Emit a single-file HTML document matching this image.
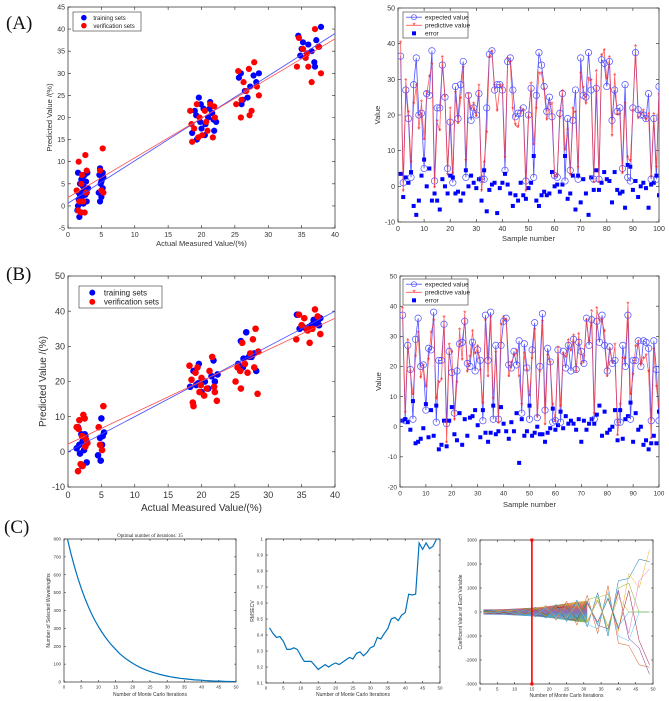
<!DOCTYPE html>
<html><head><meta charset="utf-8">
<style>
html,body{margin:0;padding:0;background:#fff;}
svg{display:block;font-family:"Liberation Sans",sans-serif;}
.pl{font-family:"Liberation Serif",serif;font-size:19px;fill:#111;}
</style></head>
<body>
<svg id="fig" width="669" height="701" viewBox="0 0 669 701" xmlns="http://www.w3.org/2000/svg">
<rect width="669" height="701" fill="#fff"/>
<text class="pl" x="6" y="29">(A)</text>
<text class="pl" x="6" y="280">(B)</text>
<text class="pl" x="4" y="533">(C)</text>
</svg>
<script>
// ---------- data ----------
const scatXTicks=[0,5,10,15,20,25,30,35,40];
const aScatYTicks=[-5,0,5,10,15,20,25,30,35,40,45];
const bScatYTicks=[-10,0,10,20,30,40,50];
const sampXTicks=[0,10,20,30,40,50,60,70,80,90,100];
const aSampYTicks=[-10,0,10,20,30,40,50];
const bSampYTicks=[-20,-10,0,10,20,30,40,50];

const trainAx=[1.4,1.5,1.6,1.7,1.8,1.9,2.0,2.1,2.2,2.3,2.4,2.5,2.6,2.7,2.8,3.0,1.5,1.8,2.0,2.2,2.5,2.8,1.6,2.3,2.9,4.6,4.7,4.8,4.9,5.0,5.1,5.2,5.3,4.8,5.0,5.2,18.6,19.0,19.3,19.6,19.8,20.0,20.3,20.6,21.0,21.3,21.6,21.9,22.2,19.2,19.9,20.5,21.2,21.8,25.6,25.9,26.2,26.5,26.9,27.3,27.8,28.2,28.6,26.0,34.5,34.8,35.2,35.6,36.0,36.5,36.9,37.2,37.6,37.9,35.0,37.0];
const trainAy=[-1,7.5,3,-2.5,5,1,6,2,4.5,0.5,3.5,7,2.5,5.5,1,4,0,2.5,-1.5,6.5,4,3,1.5,5,7.5,3,7,8.5,5,2,6,4,6.5,1,5.5,7.5,16.5,21.5,15,24.5,19,17.5,22,18.5,20,23.5,21,17,19,20.5,23,16,22,19.5,29,30,24,26,24.5,27,29.5,28,30,23,38.5,34,37,33.5,36.5,35,32.5,37.5,36,40.5,35.5,31.5];
const verifAx=[1.3,1.6,1.9,2.1,2.3,2.6,2.8,1.5,2.0,2.5,2.7,1.7,4.8,5.2,5.3,5.0,18.3,18.6,18.9,19.3,19.7,20.1,20.5,20.9,21.3,21.7,22.0,18.5,19.5,20.7,21.9,25.2,25.5,25.9,26.3,26.7,27.1,27.5,27.9,28.3,28.6,26.0,27.2,34.3,34.6,35.2,35.6,36.0,36.5,37.0,37.5,37.9,35.8];
const verifAy=[3.5,10,-1.5,7,1,11.5,8,-1,5,-1.5,3,1,8,13,3,3.5,21.5,14.5,17.5,23,20,16,21.5,17,23,15.5,20,18.5,15.5,19,22.5,23,30.5,20,28,26,31,21.5,32.5,27,25,24,20.5,31.5,38,35.5,33.5,31.5,28,40,36,30,34.5,36.5];
const trainBx=[1.3,1.5,1.8,2.0,2.2,2.4,2.6,2.8,1.7,2.1,2.5,4.5,4.8,5.0,5.2,5.4,4.9,5.1,18.3,18.8,19.2,19.6,20.0,20.5,21.0,21.5,22.0,22.4,19.5,21.8,25.5,25.9,26.3,26.7,27.1,27.5,27.9,26.2,28.2,34.3,34.7,35.2,35.7,36.1,36.5,37.0,37.4,37.8,36.8,37.6];
const trainBy=[1,7,-0.5,5,3,0.5,4.5,-3,2,-4,5,-1,4,9.5,4.5,5.5,-2.5,2,18.5,23,19,25,17,20,18,21.5,20,22,19.5,26,25,31.5,26.5,34,27,27,28,24,23,39,35,35.5,35,35.5,36,36.5,37,38,37.5,36];
const verifBx=[1.3,1.5,1.7,1.9,2.1,2.3,2.5,2.7,2.9,1.6,2.2,2.6,1.4,4.6,4.8,5.1,5.3,18.2,18.5,18.8,19.1,19.4,19.7,20.0,20.4,20.8,21.2,21.6,22.0,22.3,18.7,19.9,21.9,25.1,25.4,25.8,26.1,26.5,26.9,27.3,27.7,28.1,28.5,25.9,27.9,28.4,34.2,34.6,35.0,35.4,35.8,36.2,36.6,37.0,37.4,37.8,35.9];
const verifBy=[7,-5.5,9,-3.5,4.5,10.5,9.5,3.5,2.5,6.5,-4,1.5,7,7,2,0.5,13,24.5,20.5,13,22.5,24,17,21,16,18,23,27,17,14.5,14,19,18.5,20,24,23,31,25,22.5,28,32,35,28.5,18,24,16.5,32,39,36,38,35,31,35,40.5,38.5,33.5,34.5];
const fitA=[[0.6,39],[1.9,37.8]];
const fitB=[[0,40],[2.2,38]];

const expA=[36.5,1,27,19,2.5,28.5,36,20,20.5,5,26,25.5,38,1.5,22,22,34,25,5,18,1,28,19,28.5,35,2.5,25.5,18.5,22,20,26,2,2,22,37,38,27,28.5,28.5,27,4.5,35,36,27,19.5,20.5,20.5,22,1.5,20,27.5,2.5,25.5,37.5,34,28,21,25,19.5,3,2.5,20.5,26,1.5,19,4.5,18.5,27,2,36,25.5,25,37.5,27,2,27.5,2,35.5,34.5,28,35,18.5,27,21,22,5,28.5,2.5,1.5,22,37.5,21.5,20,20,19,26,2,19,2,28];
const predA=[40,-1.5,29.5,20.5,6.5,23,28,16,23.5,13,26,30.5,34,-0.5,18,15.5,36,25,3,21.5,3.5,26,17.5,24.5,33,7,25.5,21.5,23,19.5,28,-1.5,6.5,15,36,37.5,28,21,28,28,8,35.5,34.5,21.5,17,16.5,21.5,21,-1.5,19,28.5,11.5,21.5,31.5,31.5,27,18.5,23,23,2.5,3,19,26.5,10,15.5,3,21.5,20.5,5,31.5,27.5,23,30,29.5,1,32,1,36.5,38,30,36,14,31,20,20,3.5,23,8,7,21,39,19,20,21,18.5,20,2.5,20,5,25.5];
const errA=[3.5,-3,2.5,1,4,-5.5,-8,-4,3,7.5,0,5,-4,-2,-4,-6.5,2,0,-2,3,2.5,-2,-1.5,-4,-2,4.5,0,3,1,-0.5,2,-4,4.5,-7,-1,0.5,1,-7.5,-0.5,1,3.5,0.5,-2,-5.5,-2.5,-4,1,-2.5,-3.5,-0.5,1,8.5,-4,-5.5,-2.5,-1.5,-2.5,-2,4,0,0.5,-1.5,0.5,8.5,-3.5,-2,3,-6.5,3,-4.5,2,-2,-8,2.5,-1,4.5,-1,1,4,2,1.5,-4.5,4,-1,-2,-1.5,-6,6,5.5,-1,1.5,-3,0,1,-0.5,-6,0.5,1,3,-2.5];
const expB=[37,2,27,19,2.5,29,36,20,20.5,5.5,26,25.5,38,1.5,22,22,34,1,25,18,4.5,18.5,27.5,28,35,21,20,28,18.5,25.5,22,2,37,22,38,2.5,27,2.5,27,35,36,20.5,19.5,25,20.5,28.5,4.5,27.5,19.5,2.5,25.5,34.5,3,20,37.5,5.5,26,21.5,1.5,2,25.5,1.5,25,19.5,27,18.5,29,19,28,25,21,36,27,35.5,2.5,35,28,37,27,18.5,26.5,21,22,1.5,1.5,27,20,37,2.5,22,22,28.5,20,28.5,28,26,2,28.5,19,2];
const predB=[39,4.5,28.5,18,10.5,23,31,16,20,13,22,31,35,9,14.5,15.5,36,-5.5,27,24.5,2,14.5,32,22,37.5,18,23,31.5,24,26.5,18.5,7.5,35,16.5,36,9,24.5,1,33.5,36,35,16.5,21,23.5,25,16.5,7,24,18.5,10,22.5,32,3,18,34.5,0.5,23.5,21,7,1.5,26,6.5,24,23,28.5,25,30,18,30.5,20.5,23,35,28,38,4,39,35,35,31.5,16.5,25.5,21,27,-3,7,22.5,22.5,40.5,10.5,17,26.5,28,20.5,22.5,23.5,18,-4,25.5,13,6.5];
const errB=[2,2.5,1.5,-1,8.5,-5.5,-5,-4,-0.5,7.5,-3.5,5.5,-3,7,-7.5,-6,2,-6.5,2,6.5,-2.5,-4.5,4.5,-6,2.5,-3,3,3.5,5.5,0.5,-3.5,5.5,-2,-5,-2,7,-2.5,-1.5,6.5,1,-1.5,-4,1.5,-1.5,4.5,-12,2.5,-3,-1.5,7,-3,-2,0,-2.5,-2.5,-5,-2,-0.5,6,-1,0.5,5,-0.5,3.5,1,2,1,-1,2.5,-5,2,-1,1,2.5,1,4,7,-3,5,-2,-1,0,5.5,-4.5,5.5,-4,2.5,3.5,8,-5,4.5,-1,0,-6,-4.5,-7.5,-5.5,-3,-5.5,5];

const nWave=[800,720,648,583,525,472,425,382,344,310,279,251,226,203,183,162,145,130,117,104,93,83,74,66,59,53,47,42,37,33,29,26,23,20,18,16,14,12,11,10,8,7,6,5,5,4,3,3,2,2];
const rmsecv=[0.445,0.41,0.385,0.39,0.36,0.31,0.31,0.32,0.31,0.27,0.235,0.235,0.235,0.21,0.185,0.2,0.215,0.2,0.215,0.225,0.215,0.23,0.245,0.26,0.25,0.285,0.295,0.27,0.29,0.32,0.33,0.385,0.375,0.41,0.44,0.5,0.51,0.49,0.525,0.54,0.655,0.65,0.655,0.975,0.935,0.975,0.94,0.955,1.0,1.0];
const coefIter=[1,4,7,10,13,16,19,22,25,28,31,34,37,40,43,46,49];
const coefS1=[60,80,-90,120,-150,200,-260,320,-400,500,-620,800,-1000,1300,1400,2200,2100];
const coefS2=[-50,-70,100,-130,170,-210,280,-350,450,-550,700,-900,1100,-1300,-1400,-2200,-2300];
const coefS3=[30,40,60,80,-100,150,200,-250,300,380,-450,600,750,-800,1600,1000,2600];
const coefS4=[-30,-50,-60,-90,110,-140,-180,220,-280,-350,450,-550,-700,900,-1100,-1500,-2600];
const coefS5=[80,-60,70,-100,130,160,-200,250,300,-400,500,650,-800,1000,1200,0,0];
const coefS6=[-80,70,-80,110,-120,-170,220,-260,-320,420,-520,-700,850,-1000,-1200,0,0];
const coefS7=[20,30,-40,60,-80,100,-120,180,220,-280,350,-420,550,-700,900,-1200,-2200];
const coefS8=[-20,-40,50,-70,90,-120,150,-190,-240,300,-380,460,-600,800,-900,1300,1800];
const coefS9=[40,-50,60,-80,100,-130,160,-200,260,-320,400,-500,600,-600,0,0,0];
const coefS10=[-40,50,-60,80,-100,130,-160,200,-260,320,-400,500,-600,600,0,0,0];
const bandUp=[110,110,120,140,160,190,230,290,360,420,470];
const bandLo=[-110,-110,-120,-140,-160,-190,-230,-280,-340,-400,-440];
const cXTicks=[0,5,10,15,20,25,30,35,40,45,50];
const c1YTicks=[0,100,200,300,400,500,600,700,800];
const c2YTicks=[0.1,0.2,0.3,0.4,0.5,0.6,0.7,0.8,0.9,1];
const c3YTicks=[-3000,-2000,-1000,0,1000,2000,3000];
const optIter=[15];

// ---------- helpers ----------
const NS='http://www.w3.org/2000/svg';
const svg=document.getElementById('fig');
function mk(tag,attrs,parent){const e=document.createElementNS(NS,tag);for(const k in attrs)e.setAttribute(k,attrs[k]);(parent||svg).appendChild(e);return e;}
function lin(d0,d1,r0,r1){return v=>r0+(v-d0)*(r1-r0)/(d1-d0);}

function axes(name,c){
  const g=mk('g',{});
  
  
  const sx=lin(c.xmin,c.xmax,c.x0,c.x1), sy=lin(c.ymin,c.ymax,c.y0,c.y1);
  const fr=mk('rect',{x:c.x0,y:c.y1,width:c.x1-c.x0,height:c.y0-c.y1,fill:'#fff',stroke:'#262626','stroke-width':0.7},g);
  
  
  const tl=c.tl||3;
  c.xt.forEach(v=>{
    const X=sx(v);
    const t=mk('path',{d:`M${X},${c.y0}v${-tl}M${X},${c.y1}v${tl}`,stroke:'#262626','stroke-width':0.6},g);
    
    
    const l=mk('text',{x:X,y:c.y0+c.fs+2,'font-size':c.fs,'text-anchor':'middle',fill:'#333'},g);
    
    
    l.textContent=v;
  });
  c.yt.forEach(v=>{
    const Y=sy(v);
    const t=mk('path',{d:`M${c.x0},${Y}h${tl}M${c.x1},${Y}h${-tl}`,stroke:'#262626','stroke-width':0.6},g);
    
    
    const l=mk('text',{x:c.x0-3,y:Y+c.fs*0.35,'font-size':c.fs,'text-anchor':'end',fill:'#333'},g);
    
    
    l.textContent=v;
  });
  if(c.xl){const l=mk('text',{x:(c.x0+c.x1)/2,y:c.xly,'font-size':c.lfs,'text-anchor':'middle',fill:'#333'},g);
    
    
    l.textContent=c.xl;}
  if(c.yl){const l=mk('text',{x:c.ylx,y:(c.y0+c.y1)/2,'font-size':c.lfs,'text-anchor':'middle',fill:'#333',transform:`rotate(-90 ${c.ylx} ${(c.y0+c.y1)/2})`},g);
    
    
    l.textContent=c.yl;}
  const clip='clip'+name;
  const cp=mk('clipPath',{id:clip},g);
  mk('rect',{x:c.x0,y:c.y1,width:c.x1-c.x0,height:c.y0-c.y1},cp);
  const pg=mk('g',{'clip-path':`url(#${clip})`},g);
  
  
  return {sx,sy,g,pg};
}

function scatterPanel(name,c,tx,ty,vx,vy,fits,r,leg){
  const a=axes(name,c);
  const n1=Math.min(tx.length,ty.length), n2=Math.min(vx.length,vy.length);
  for(let i=0;i<n1;i++){const p=mk('circle',{cx:a.sx(tx[i]),cy:a.sy(ty[i]),r:r,fill:'#0000ff'},a.pg);
    
    }
  for(let i=0;i<n2;i++){const p=mk('circle',{cx:a.sx(vx[i]),cy:a.sy(vy[i]),r:r,fill:'#ff0000'},a.pg);
    
    }
  const cols=['#4a4aff','#ff4a4a'];
  fits.forEach((f,k)=>{const l=mk('line',{x1:a.sx(0),y1:a.sy(f[0]),x2:a.sx(40),y2:a.sy(f[1]),stroke:cols[k],'stroke-width':0.8},a.pg);
    
    });
  const lg=mk('g',{},a.g);
  
  
  mk('rect',{x:leg.x,y:leg.y,width:leg.w,height:leg.h,fill:'#fff',stroke:'#333','stroke-width':0.6},lg);
  [['training sets','#0000ff'],['verification sets','#ff0000']].forEach((e,k)=>{
    const yy=leg.y+leg.h*(0.3+0.42*k);
    const d=mk('circle',{cx:leg.x+leg.w*0.16,cy:yy,r:r*0.9,fill:e[1]},lg);
    
    
    const t=mk('text',{x:leg.x+leg.w*0.3,y:yy+leg.fs*0.35,'font-size':leg.fs,fill:'#222'},lg);
    
    
    t.textContent=e[0];
  });
}

function samplePanel(name,c,ex,pr,er,leg){
  const a=axes(name,c);
  const idx=ex.map((_,i)=>i+1);
  const pe=idx.map((x,i)=>`${a.sx(x)},${a.sy(ex[i])}`).join(' ');
  const pp=idx.map((x,i)=>`${a.sx(x)},${a.sy(pr[i])}`).join(' ');
  const l1=mk('polyline',{points:pe,fill:'none',stroke:'#5050ff','stroke-width':0.8},a.pg);
  
  
  const l2=mk('polyline',{points:pp,fill:'none',stroke:'#ff4040','stroke-width':0.8,'stroke-opacity':0.85},a.pg);
  
  
  idx.forEach((x,i)=>{
    const o=mk('circle',{cx:a.sx(x),cy:a.sy(ex[i]),r:3.2,fill:'none',stroke:'#5050ff','stroke-width':0.7},a.pg);
    
    
    const s=mk('text',{x:a.sx(x),y:a.sy(pr[i])+3,'font-size':8,'text-anchor':'middle',fill:'#ff2020'},a.pg);
    
    
    s.textContent='*';
    const q=mk('rect',{x:a.sx(x)-2,y:a.sy(er[i])-2,width:4,height:4,fill:'#0000ff'},a.pg);
    
    
  });
  const lg=mk('g',{},a.g);
  
  
  mk('rect',{x:leg.x,y:leg.y,width:leg.w,height:leg.h,fill:'#fff',stroke:'#333','stroke-width':0.6},lg);
  const names=['expected value','predictive value','error'];
  names.forEach((nm,k)=>{
    const yy=leg.y+leg.h*(0.2+0.31*k), x0=leg.x+3, x1=leg.x+19, xm=(x0+x1)/2;
    if(k<2){mk('line',{x1:x0,y1:yy,x2:x1,y2:yy,stroke:k?'#ff4040':'#5050ff','stroke-width':0.8},lg);}
    if(k==0){mk('circle',{cx:xm,cy:yy,r:2.5,fill:'none',stroke:'#5050ff','stroke-width':0.7},lg);}
    if(k==1){mk('text',{x:xm,y:yy+3,'font-size':8,'text-anchor':'middle',fill:'#ff2020'},lg).textContent='*';}
    if(k==2){mk('rect',{x:xm-2,y:yy-2,width:4,height:4,fill:'#0000ff'},lg);}
    const t=mk('text',{x:leg.x+22,y:yy+2.3,'font-size':6.5,fill:'#222'},lg);
    
    
    t.textContent=nm;
  });
}

// ---------- panels ----------
scatterPanel('scatter-a',{x0:68,x1:335,y0:228,y1:7,xmin:0,xmax:40,ymin:-5,ymax:45,xt:scatXTicks,yt:aScatYTicks,fs:7,lfs:7.5,xl:'Actual Measured Value/(%)',xly:246,yl:'Predicted Value /(%)',ylx:52},
  trainAx,trainAy,verifAx,verifAy,fitA,3.1,{x:73,y:12,w:68,h:19,fs:6});
samplePanel('samples-a',{x0:398,x1:659,y0:222,y1:8,xmin:0,xmax:100,ymin:-10,ymax:50,xt:sampXTicks,yt:aSampYTicks,fs:7,lfs:7.5,xl:'Sample number',xly:241,yl:'Value',ylx:380},
  expA,predA,errA,{x:403,y:12,w:65,h:26});
scatterPanel('scatter-b',{x0:68,x1:335,y0:487,y1:276,xmin:0,xmax:40,ymin:-10,ymax:50,xt:scatXTicks,yt:bScatYTicks,fs:9,lfs:10,xl:'Actual Measured Value/(%)',xly:511,yl:'Predicted Value /(%)',ylx:46},
  trainBx,trainBy,verifBx,verifBy,fitB,3.3,{x:79,y:286,w:83,h:22,fs:8});
samplePanel('samples-b',{x0:400,x1:659,y0:487,y1:276,xmin:0,xmax:100,ymin:-20,ymax:50,xt:sampXTicks,yt:bSampYTicks,fs:6.5,lfs:7.5,xl:'Sample number',xly:507,yl:'Value',ylx:381},
  expB,predB,errB,{x:403,y:279,w:65,h:26});

// C1
(function(){
  const a=axes('wavelength-count-chart',{x0:64,x1:236,y0:682,y1:539,xmin:0,xmax:50,ymin:0,ymax:800,xt:cXTicks,yt:c1YTicks,fs:4.5,lfs:5,tl:2,xl:'Number of Monte Carlo Iterations',xly:696,yl:'Number of Selected Wavelengths',ylx:50});
  const pts=nWave.map((v,i)=>`${a.sx(i+1)},${a.sy(v)}`).join(' ');
  const l=mk('polyline',{points:pts,fill:'none',stroke:'#0072bd','stroke-width':1.2},a.pg);
  
  
  const t=mk('text',{x:150,y:537,'font-size':5,'text-anchor':'middle',fill:'#222','font-family':'Liberation Serif'},a.g);
  
  
  t.textContent='Optimal number of iterations: '+optIter[0];
})();
// C2
(function(){
  const a=axes('rmsecv-chart',{x0:266,x1:440,y0:683,y1:539,xmin:0,xmax:50,ymin:0.1,ymax:1,xt:cXTicks,yt:c2YTicks,fs:4.5,lfs:5,tl:2,xl:'Number of Monte Carlo Iterations',xly:696,yl:'RMSECV',ylx:254});
  const pts=rmsecv.map((v,i)=>`${a.sx(i+1)},${a.sy(v)}`).join(' ');
  const l=mk('polyline',{points:pts,fill:'none',stroke:'#0072bd','stroke-width':1.2},a.pg);
  
  
})();
// C3
(function(){
  const a=axes('coefficient-chart',{x0:480,x1:653,y0:684,y1:540,xmin:0,xmax:50,ymin:-3000,ymax:3000,xt:cXTicks,yt:c3YTicks,fs:4.5,lfs:5,tl:2,xl:'Number of Monte Carlo Iterations',xly:697,yl:'Coefficient Value of Each Variable',ylx:462});
  const nb=bandUp.length;
  const bx=coefIter.slice(0,nb);
  const band=bx.map((x,i)=>`${a.sx(x)},${a.sy(bandUp[i])}`).concat(bx.map((x,i)=>`${a.sx(x)},${a.sy(bandLo[i])}`).reverse()).join(' ');
  const grad=mk('linearGradient',{id:'bandGrad',x1:0,y1:0,x2:0,y2:1},a.g);
  [['0','#d9a23a'],['0.3','#c0504d'],['0.5','#7e4f9e'],['0.7','#3a8fc0'],['1','#77ac30']].forEach(s=>mk('stop',{offset:s[0],'stop-color':s[1]},grad));
  const b=mk('polygon',{points:band,fill:'url(#bandGrad)','fill-opacity':0.85},a.pg);
  
  
  const series=[coefS1,coefS2,coefS3,coefS4,coefS5,coefS6,coefS7,coefS8,coefS9,coefS10];
  const cols=['#0072bd','#d95319','#edb120','#7e2f8e','#77ac30','#4dbeee','#a2142f','#e377c2','#17becf','#bcbd22'];
  series.forEach((s,k)=>{
    const pts=coefIter.map((x,i)=>`${a.sx(x)},${a.sy(s[i])}`).join(' ');
    const l=mk('polyline',{points:pts,fill:'none',stroke:cols[k],'stroke-width':0.5},a.pg);
    
    
  });
  const v=mk('line',{x1:a.sx(optIter[0]),y1:a.sy(3000),x2:a.sx(optIter[0]),y2:a.sy(-3000),stroke:'#ff0000','stroke-width':1.6},a.g);
  
  
  [3000,-3000].forEach(y=>{const m=mk('rect',{x:a.sx(optIter[0])-1.5,y:a.sy(y)-1.5,width:3,height:3,fill:'#ff0000'},a.g);
    
    });
})();
</script>
</body></html>
